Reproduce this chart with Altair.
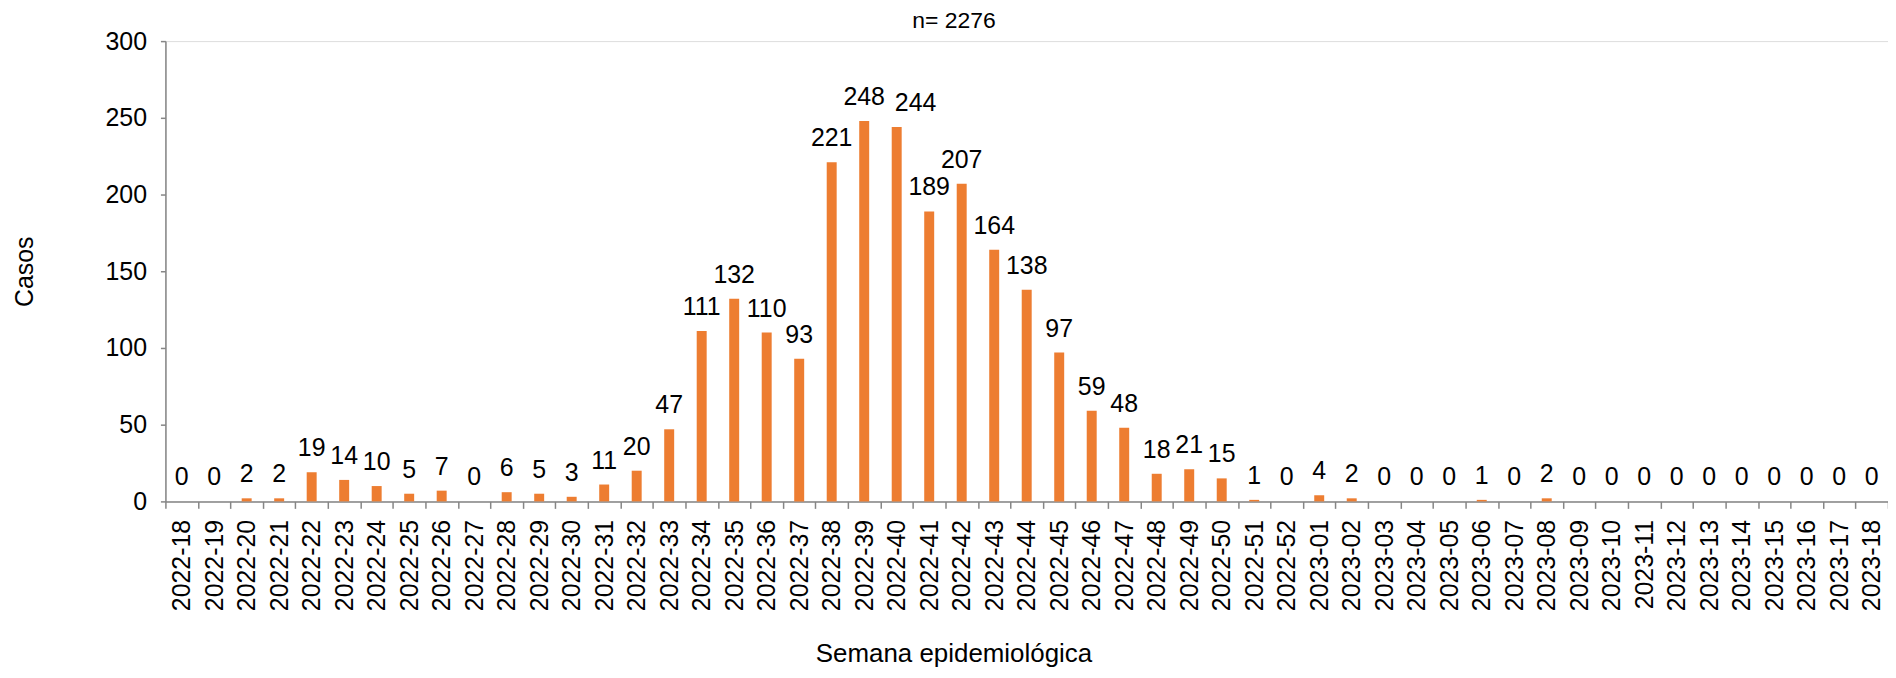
import altair as alt
import pandas as pd

weeks_2022 = [f"2022-{w:02d}" for w in range(18, 53)]
weeks_2023 = [f"2023-{w:02d}" for w in range(1, 19)]
weeks = weeks_2022 + weeks_2023

cases = [0, 0, 2, 2, 19, 14, 10, 5, 7, 0, 6, 5, 3, 11, 20, 47, 111, 132, 110, 93,
         221, 248, 244, 189, 207, 164, 138, 97, 59, 48, 18, 21, 15, 1, 0,
         4, 2, 0, 0, 0, 1, 0, 2, 0, 0, 0, 0, 0, 0, 0, 0, 0, 0]

title_text = "n= 2276"
x_title = "Semana epidemiológica"
y_title = "Casos"
shifted_label_week = "2022-40"

df = pd.DataFrame({"week": weeks, "cases": cases})

FONT = "Liberation Sans"
AXIS_GRAY = "#868686"
W, H = 1729, 462
FS = 25

x_enc = alt.X(
    "week:N",
    sort=weeks,
    scale=alt.Scale(paddingInner=0, paddingOuter=0),
    axis=alt.Axis(
        title=x_title,
        labelAngle=270,
        labelAlign="right",
        labelBaseline="middle",
        labelFont=FONT,
        labelFontSize=FS,
        labelColor="#000000",
        labelPadding=11,
        tickBand="extent",
        tickSize=7,
        tickColor=AXIS_GRAY,
        tickWidth=1.5,
        domainColor=AXIS_GRAY,
        domainWidth=1.5,
        titleFont=FONT,
        titleFontSize=26,
        titleFontWeight="normal",
        titleColor="#000000",
        titleX=791,
        titleY=153,
        titleAlign="center",
        titleBaseline="middle",
        labelOverlap=False,
    ),
)

y_enc = alt.Y(
    "cases:Q",
    scale=alt.Scale(domain=[0, 300], nice=False),
    axis=alt.Axis(
        title=y_title,
        values=[0, 50, 100, 150, 200, 250, 300],
        grid=False,
        labelFont=FONT,
        labelFontSize=FS,
        labelColor="#000000",
        labelPadding=14,
        tickSize=5,
        tickColor=AXIS_GRAY,
        tickWidth=1.5,
        domainColor=AXIS_GRAY,
        domainWidth=1.5,
        titleFont=FONT,
        titleFontSize=FS,
        titleFontWeight="normal",
        titleColor="#000000",
        titleAngle=270,
        titleX=-141,
        titleY=231,
        titleAlign="center",
        titleBaseline="middle",
    ),
)

base = alt.Chart(df)

bars = base.mark_bar(width=10, color="#ED7D31").encode(x=x_enc, y=y_enc)

labels = base.mark_text(
    font=FONT, fontSize=FS, color="#000000", baseline="alphabetic", dy=-16
).encode(
    x=alt.X("week:N", sort=weeks),
    y=alt.Y("cases:Q"),
    text=alt.Text("cases:Q"),
).transform_filter(alt.datum.week != shifted_label_week)

label_shift = base.mark_text(
    font=FONT, fontSize=FS, color="#000000", baseline="alphabetic", dy=-16, dx=19
).encode(
    x=alt.X("week:N", sort=weeks),
    y=alt.Y("cases:Q"),
    text=alt.Text("cases:Q"),
).transform_filter(alt.datum.week == shifted_label_week)

chart = (
    alt.layer(bars, labels, label_shift)
    .properties(
        width=W,
        height=H,
        title=alt.TitleParams(
            title_text,
            font=FONT,
            fontSize=23,
            fontWeight="normal",
            color="#000000",
            anchor="middle",
            dx=-73,
            dy=4,
            offset=0,
        ),
        autosize=alt.AutoSizeParams(type="none"),
        padding={"left": 158, "top": 32, "right": 0, "bottom": 168},
    )
    .configure_view(stroke=None)
    .configure(background="white")
)

chart.save("out.html", embed_options={"renderer": "svg", "actions": False})
